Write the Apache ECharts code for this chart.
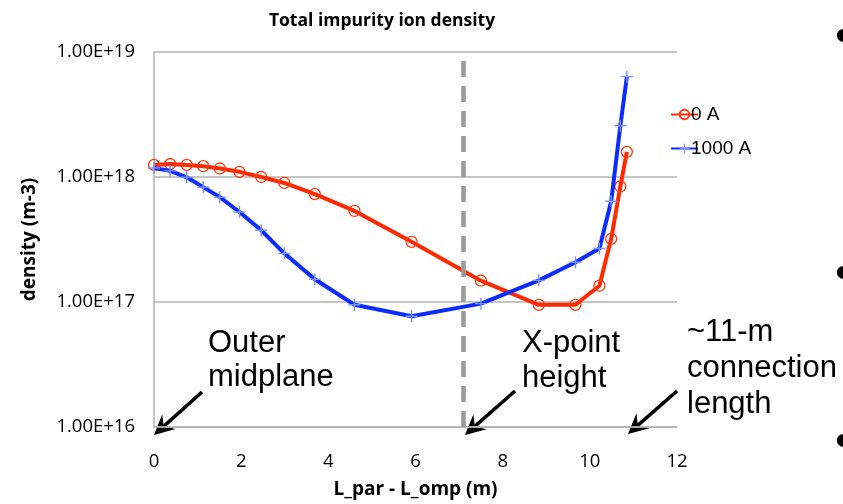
<!DOCTYPE html>
<html><head><meta charset="utf-8">
<script src="https://cdn.jsdelivr.net/npm/echarts@6/dist/echarts.min.js"></script>
<style>html,body{margin:0;padding:0;background:#fff}#c{width:843px;height:504px}</style>
</head><body><div id="c"></div>
<script>
const xValues = [0, 0.37, 0.75, 1.13, 1.51, 1.96, 2.46, 2.99, 3.69, 4.6, 5.91, 7.5, 8.83, 9.67, 10.22, 10.49, 10.7, 10.85];
const series0A = [1.25e18, 1.27e18, 1.25e18, 1.22e18, 1.17e18, 1.10e18, 1.0e18, 8.96e17, 7.3e17, 5.35e17, 3.03e17, 1.48e17, 9.5e16, 9.5e16, 1.35e17, 3.2e17, 8.4e17, 1.59e18];
const series1000A = [1.18e18, 1.12e18, 9.95e17, 8.3e17, 6.9e17, 5.25e17, 3.75e17, 2.45e17, 1.52e17, 9.5e16, 7.7e16, 9.7e16, 1.49e17, 2.08e17, 2.68e17, 6.4e17, 2.57e18, 6.35e18];
const seriesNames = ['0 A', '1000 A'];
const xPointHeight = 7.1;

const chart = echarts.init(document.getElementById('c'));
const plus = 'path://M-0.12,-1L0.12,-1L0.12,-0.12L1,-0.12L1,0.12L0.12,0.12L0.12,1L-0.12,1L-0.12,0.12L-1,0.12L-1,-0.12L-0.12,-0.12Z';
const sans = '"Liberation Sans", Arial, sans-serif';
const lab = '"Open Sans", sans-serif';

function arrow(x1, y1, x2, y2) {
  const dx = x2 - x1, dy = y2 - y1, L = Math.hypot(dx, dy);
  const ux = dx / L, uy = dy / L, px = -uy, py = ux;
  const hl = 20, hw = 10, back = 13;
  const bx = x2 - ux * hl, by = y2 - uy * hl;
  const cx = x2 - ux * back, cy = y2 - uy * back;
  return [
    {type: 'line', shape: {x1: x1, y1: y1, x2: cx, y2: cy}, style: {stroke: '#000', lineWidth: 3.5}},
    {type: 'polygon', shape: {points: [[x2, y2], [bx + px * hw, by + py * hw], [cx, cy], [bx - px * hw, by - py * hw]]}, style: {fill: '#000'}}
  ];
}
const txt = (x, y, s, extra) => ({type: 'text', x: x, y: y, style: Object.assign({text: s, font: '31px ' + sans, fill: '#000'}, extra || {})});

chart.setOption({
  animation: false,
  title: {text: 'Total impurity ion density', left: 377, top: 7, textAlign: 'center',
    textStyle: {fontFamily: lab, fontWeight: 'bold', fontSize: 17.5, color: '#000'}},
  grid: {left: 154, right: 166, top: 52, bottom: 74},
  legend: {
    orient: 'vertical', left: 665, top: 100, itemGap: 15, itemWidth: 27, itemHeight: 12,
    textStyle: {fontFamily: sans, fontSize: 19, color: '#000', padding: [0, 0, 0, -12]},
    data: seriesNames
  },
  xAxis: {
    type: 'value', min: 0, max: 12, interval: 2,
    name: 'L_par - L_omp (m)', nameLocation: 'middle', nameGap: 53,
    nameTextStyle: {fontFamily: lab, fontWeight: 'bold', fontSize: 19, color: '#000'},
    axisLine: {lineStyle: {color: '#b3b3b3', width: 1.5}},
    axisTick: {show: false},
    axisLabel: {fontFamily: lab, fontSize: 18.5, color: '#000', margin: 25},
    splitLine: {show: false}
  },
  yAxis: {
    type: 'log', logBase: 10, min: 1e16, max: 1e19,
    name: 'density (m-3)', nameLocation: 'middle', nameGap: 115,
    nameTextStyle: {fontFamily: lab, fontWeight: 'bold', fontSize: 19, color: '#000'},
    axisLine: {show: true, lineStyle: {color: '#b3b3b3', width: 1.5}},
    axisTick: {show: false},
    axisLabel: {fontFamily: lab, fontSize: 18.5, color: '#000', margin: 19,
      formatter: v => '1.00E+' + Math.round(Math.log10(v))},
    splitLine: {lineStyle: {color: '#b3b3b3', width: 1.5}},
    minorTick: {show: false}, minorSplitLine: {show: false}
  },
  series: [
    {
      name: seriesNames[0], type: 'line', data: xValues.map((x, i) => [x, series0A[i]]),
      lineStyle: {color: '#ff2a00', width: 4}, symbol: 'circle', symbolSize: 11, z: 3,
      itemStyle: {color: 'rgba(255,255,255,0)', borderColor: '#ff3a10', borderWidth: 1.3},
      markLine: {
        silent: true, symbol: ['none', 'none'], label: {show: false},
        lineStyle: {color: '#999999', width: 4.5, type: [16, 9]},
        data: [{xAxis: xPointHeight}]
      }
    },
    {
      name: seriesNames[1], type: 'line', data: xValues.map((x, i) => [x, series1000A[i]]),
      lineStyle: {color: '#0a2cff', width: 4}, symbol: plus, symbolSize: 12, z: 4,
      itemStyle: {color: '#7b92ff', borderWidth: 0}
    }
  ],
  graphic: [
    txt(208, 328, 'Outer'), txt(208, 362, 'midplane'),
    txt(522, 328, 'X-point'), txt(522, 363, 'height'),
    txt(687, 317, '~11-m'), txt(687, 353, 'connection'), txt(687, 389, 'length'),
    txt(835, 14, '•', {font: '48px ' + sans}),
    txt(835, 251, '•', {font: '48px ' + sans}),
    txt(835, 419, '•', {font: '48px ' + sans})
  ].concat(arrow(202, 392, 154, 435), arrow(515, 391, 465, 435), arrow(677, 391, 628, 434))
});
</script></body></html>
